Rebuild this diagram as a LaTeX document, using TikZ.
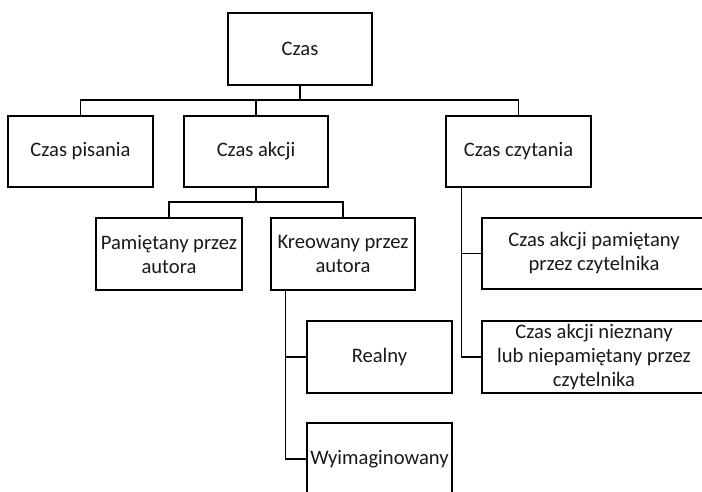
\documentclass[tikz,border=0pt]{standalone}
\usepackage{fontspec}
\setmainfont{Carlito}
\begin{document}
\begin{tikzpicture}[x=1pt,y=-1pt,
  box/.style={draw=black,line width=1.5pt,rectangle,inner sep=0pt,align=center,
    font=\fontsize{20.6}{24}\selectfont,text=black!90},
  conn/.style={draw=black,line width=1.4pt}]
\useasboundingbox (0,0) rectangle (702,491);
\clip (0,0) rectangle (702,491);
\node[box,minimum width=144pt,minimum height=72pt] (czas) at (300,49) {Czas};
\node[box,minimum width=145pt,minimum height=71pt] (pisania) at (80.5,151.5) {Czas pisania};
\node[box,minimum width=144pt,minimum height=71pt] (akcji) at (256,151.5) {Czas akcji};
\node[box,minimum width=145pt,minimum height=71pt] (czytania) at (518.5,151.5) {Czas czytania};
\node[box,minimum width=146pt,minimum height=72pt] (pam) at (169,254) {Pamiętany przez\\autora};
\node[box,minimum width=144pt,minimum height=72pt] (kre) at (343,254) {Kreowany przez\\autora};
\node[box,minimum width=224pt,minimum height=71pt] (cap) at (594,253.5) {Czas akcji pamiętany\\przez czytelnika};
\node[box,minimum width=224pt,minimum height=72pt] (cnp) at (594,357) {Czas akcji nieznany\\lub niepamiętany przez\\czytelnika};
\node[box,minimum width=145pt,minimum height=72pt] (realny) at (379.5,357) {Realny};
\node[box,minimum width=145pt,minimum height=72pt] (wyim) at (379.5,459) {Wyimaginowany};
\coordinate (b1) at (300,100);
\coordinate (b2) at (256,202);
\draw[conn] (czas.south) -- (b1);
\draw[conn] (pisania.north) |- (b1) -| (czytania.north);
\draw[conn] (akcji.north) -- (akcji.north |- b1);
\draw[conn] (akcji.south) -- (b2);
\draw[conn] (pam.north) |- (b2) -| (kre.north);
\draw[conn] ([xshift=16pt]czytania.south west) |- (cap.west);
\draw[conn] ([xshift=16pt]czytania.south west) |- (cnp.west);
\draw[conn] ([xshift=15pt]kre.south west) |- (realny.west);
\draw[conn] ([xshift=15pt]kre.south west) |- (wyim.west);
\end{tikzpicture}
\end{document}
